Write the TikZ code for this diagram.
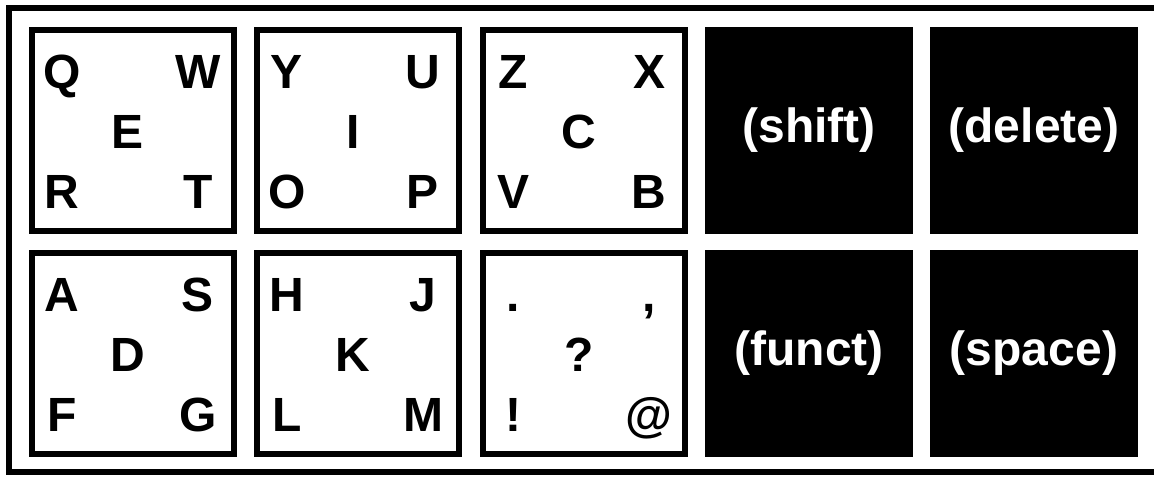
\documentclass[tikz,border=0pt]{standalone}
\usepackage{fontspec}
\setmainfont{Liberation Sans}
\usetikzlibrary{positioning,calc}

\begin{document}
\begin{tikzpicture}[x=0.5pt,y=-0.5pt,
    keybox/.style={rectangle,draw,line width=3pt,minimum width=101pt,minimum height=100.5pt,inner sep=0pt},
    darkkey/.style={keybox,fill=black,text=white,font=\bfseries\fontsize{24pt}{24pt}\selectfont},
    letter/.style={anchor=base,inner sep=0pt,font=\bfseries\fontsize{24pt}{24pt}\selectfont}]
    \useasboundingbox (0,0) rectangle (1154,477);

    % Frame
    \draw[line width=3pt] (9,8) rectangle (1164,472);

    % Letter keys, top row
    \node[keybox] (k1) at (133,130.5) {};
    \node[keybox] (k2) at (358,130.5) {};
    \node[keybox] (k3) at (584,130.5) {};

    % Letter keys, bottom row
    \node[keybox] (k6) at (133,353.5) {};
    \node[keybox] (k7) at (358,353.5) {};
    \node[keybox] (k8) at (584,353.5) {};

    % Special keys
    \node[darkkey] (shift) at (809,130.5) {(shift)};
    \node[darkkey] (delete) at (1034,130.5) {(delete)};
    \node[darkkey] (funct) at (809,353.5) {(funct)};
    \node[darkkey] (space) at (1034,353.5) {(space)};

    % Letters
    \foreach \k/\a/\b/\c/\d/\e in {k1/Q/W/E/R/T, k2/Y/U/I/O/P, k3/Z/X/C/V/B,
                                   k6/A/S/D/F/G, k7/H/J/K/L/M, k8/./{,}/?/!/@} {
        \node[letter] (\k-tl) at ($(\k.center)+(-71,-42.5)$) {\a};
        \node[letter] (\k-tr) at ($(\k.center)+(65,-42.5)$) {\b};
        \node[letter] (\k-mid) at ($(\k.center)+(-5,17.5)$) {\c};
        \node[letter] (\k-bl) at ($(\k.center)+(-71,77.5)$) {\d};
        \node[letter] (\k-br) at ($(\k.center)+(65,77.5)$) {\e};
    }
\end{tikzpicture}
\end{document}
